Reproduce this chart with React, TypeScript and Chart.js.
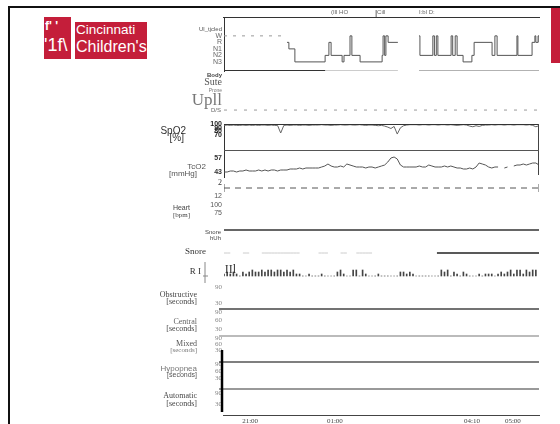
import React, { useEffect, useRef } from "react";
import { Chart, registerables } from "chart.js";

Chart.register(...registerables);

// ---------------- data ----------------
const TIME_TICKS = [8.3, 35.2, 78.7, 91.7];
const TIME_LABELS = ["21:00", "01:00", "04:10", "05:00"];
const HEADER_TICKS = [34.0, 48.6, 61.9];
const HEADER_LABELS = ["(Ill HO", "Cill", "I:bl D:"];
const LIGHTS_MARK = 48.3;

const STAGE_VALUES = [4, 3, 2, 1, 0];
const STAGE_LABELS = ["W", "R", "N1", "N2", "N3"];
const PRE_WAKE_X = [0, 20];
const PRE_WAKE_STAGE = [4, 4];
const HYP_X = [20.0, 20.6, 22.5, 32.1, 33.3, 34.0, 37.5, 38.1, 40.0, 40.6, 43.2, 50.2, 50.5, 51.0, 51.4, 52.1, 55.2, 58, 61.9, 62.2, 66.3, 66.8, 67.4, 67.9, 72.1, 72.6, 73.4, 74.0, 75.9, 78.7, 79.4, 85.1, 86.0, 86.7, 93.0, 93.3, 97.8, 98.7, 99.0, 99.7, 100];
const HYP_STAGE = [3, 2, 0, 1, 3, 1, 0, 1, 4, 1, 0, 1, 4, 1, 4, 3, 3, null, 4, 1, 4, 1, 4, 1, 4, 1, 4, 1, 0, 1, 3, 1, 4, 1, 4, 1, 3, 4, 3, 4, 3];
const SLEEP_BAR_DARK = [0, 32.1];
const SLEEP_BAR_LIGHT = [32.1, 55.2];
const SLEEP_BAR_MID = [61.9, 100];

const POS_X = [0, 100];
const POS_LEVEL = [0, 0];

const SPO2_TICKS = [100, 90, 80, 70];
const SPO2 = [
  97, 98, 97, 98, 97, 97, 98, 97, 98, 97,
  98, 97, 98, 98, 97, 98, 97, 97, 75, 97,
  98, 97, 98, 98, 97, 98, 98, 97, 98, 98,
  98, 99, 98, 98, 97, 98, 98, 99, 98, 98,
  99, 98, 98, 99, 98, 97, 98, 98, 97, 96,
  97, 95, 92, 88, 94, 72, 90, 96, 98, 99,
  99, 99, 98, 99, 99, 98, 99, 99, 98, 99,
  99, 98, 99, 98, 97, 98, 99, 98, 95, 93,
  96, 94, 97, 98, 98, 99, 98, 99, 99, 98,
  99, 99, 98, 99, 99, 99, 98, 99, 97, 93,
  96,
];

const TCO2_TICKS = [57, 43];
const TCO2 = [
  43, 43, 44, 44, 43, 44, 44, 45, 44, 44,
  44, 45, 44, 45, 44, 45, 45, 44, 45, 45,
  45, 46, 46, 46, 47, 46, 47, 47, 47, 47,
  47, 48, 49, 51, 49, 48, 48, 49, 48, 51,
  50, 49, 48, 48, 48, 47, 48, 48, 47, 48,
  49, 50, 53, 57, 58, 56, 50, 48, 48, 48,
  48, 48, 49, 48, 48, 50, 49, 48, 48, 48,
  49, 48, 49, 48, 47, 47, 46, 46, 47, 46,
  48, 52, 51, 50, 48, 47, 48, 48, null, 47,
  48, null, 49, 50, 50, 51, 50, 51, 52, 52,
  50,
];

const CO2_X = [0, 100];
const CO2_LEVEL = [0, 0];
const CO2_TICKS = [1];
const CO2_TICK_LABELS = ["2"];

const HR_TICKS = [125, 100, 75];
const HR_TICK_LABELS = ["12", "100", "75"];

const SNORE_HUH_X = [0, 100];
const SNORE_HUH = [0, 0];
const SNORE_FAINT = [
  0, 0, 0, null, null, null, 0, 0, 0, null, null, null,
  0, 0, 0, 0, 0, 0, 0, 0, 0, 0, 0, 0, 0,
  null, null, null, null, null, 0, 0, 0, 0, null, null, null,
  0, 0, 0, null, null, 0, 0, 0, 0, 0, 0,
  null, null, null, null, null, null, null, null, null, null,
  null, null, null, null, null, null, null, null, null,
];
const SNORE_LOUD_X = [67.6, 100];
const SNORE_LOUD = [0, 0];

const RESP = [
  1, 2, 1, 2, 1, 0, 2, 1, 2, 3, 2, 2, 3, 2, 3, 3, 2, 3, 3, 2, 3, 2, 3, 1, 1,
  0, 0, 1, 0, 0, 0, 1, 0, 0, 0, 0,
  2, 3, 1, 0, 0,
  3, 3, 0, 3, 1,
  0, 0, 0, 1, 0, 0, 0,
  0, 0, 0,
  2, 2, 1, 2, 1, 0, 0,
  0, 0, 0, 0, 0, 0,
  3, 2, 3, 0, 2, 1,
  0, 2, 1, 0, 0, 0,
  1, 0, 1, 1, 1, 0,
  1, 2, 1, 2, 3, 1,
  3, 3, 1, 3, 2, 3, 3,
];

const EVENT_TICKS = [90, 60, 30];
const EVENT_TICKS_SHORT = [90, 30];

// ---------------- styling ----------------
const SANS = "'Liberation Sans', Arial, sans-serif";
const SERIF = "'Liberation Serif', 'Times New Roman', serif";

type Panel = {
  id: string; h: number; min: number; max: number;
  ticks?: number[]; labels?: string[]; font?: any; color?: string; border?: boolean;
};

const EV_FONT = { family: SERIF, size: 7 };
const PANELS: Panel[] = [
  { id: "yHyp", h: 54, min: -1.4, max: 6.9, ticks: STAGE_VALUES, labels: STAGE_LABELS, font: { family: SANS, size: 7 }, color: "#666", border: true },
  { id: "yPos", h: 53, min: -1, max: 2.8 },
  { id: "ySpo2", h: 26, min: 26, max: 101, ticks: SPO2_TICKS, font: { family: SANS, size: 7, weight: "bold" }, color: "#222", border: true },
  { id: "yTco2", h: 27, min: 38, max: 65, ticks: TCO2_TICKS, font: { family: SANS, size: 7, weight: "bold" }, color: "#333", border: true },
  { id: "yCo2", h: 16, min: -1, max: 2.2, ticks: CO2_TICKS, labels: CO2_TICK_LABELS, font: { family: SERIF, size: 8 }, color: "#333" },
  { id: "yHr", h: 29, min: 50, max: 135, ticks: HR_TICKS, labels: HR_TICK_LABELS, font: { family: SANS, size: 7 }, color: "#555" },
  { id: "ySnoreHuh", h: 22, min: -1, max: 0.571 },
  { id: "ySnore", h: 18, min: -1, max: 1 },
  { id: "yResp", h: 22, min: -4, max: 7 },
  { id: "yObs", h: 25, min: 7.5, max: 101.25, ticks: EVENT_TICKS_SHORT, font: EV_FONT, color: "#888" },
  { id: "yCen", h: 27, min: 5.3, max: 100.6, ticks: EVENT_TICKS, font: EV_FONT, color: "#888" },
  { id: "yMix", h: 26, min: -30, max: 100, ticks: EVENT_TICKS, font: EV_FONT, color: "#888" },
  { id: "yHyo", h: 27, min: -17, max: 98.6, ticks: EVENT_TICKS, font: EV_FONT, color: "#888" },
  { id: "yAuto", h: 26, min: -30, max: 111.8, ticks: EVENT_TICKS_SHORT, font: EV_FONT, color: "#888" },
];

// side texts: [text, rightX, centerY, size, family, color, weight]
const SIDE_TEXT: [string, number, number, number, string, string, string?][] = [
  ["Ul_tjcled", 222, 29, 6, SANS, "#555"],
  ["Body", 222, 75, 6, SANS, "#444", "bold"],
  ["Sute", 222, 82, 10, SERIF, "#555"],
  ["Prone", 222, 91, 5, SANS, "#777"],
  ["Upll", 222, 101, 17, SERIF, "#777"],
  ["D/S", 221, 110, 6, SANS, "#666"],
  ["SpO2", 186, 131, 10, SANS, "#333"],
  ["[%]", 184, 138, 10, SANS, "#333"],
  ["TcO2", 206, 167, 8, SANS, "#555"],
  ["[mmHg]", 197, 174, 8, SANS, "#555"],
  ["Heart", 190, 208, 7, SANS, "#444"],
  ["[bpm]", 190, 215, 7, SERIF, "#444"],
  ["Snore", 221, 232, 6, SANS, "#444"],
  ["hUh", 221, 238, 6, SANS, "#444"],
  ["Snore", 206, 252, 9, SERIF, "#333"],
  ["R I", 201, 272, 9, SERIF, "#333"],
  ["IIl", 236, 270, 12, SERIF, "#333"],
  ["Obstructive", 197, 295, 8, SERIF, "#444"],
  ["[seconds]", 197, 302, 8, SERIF, "#444"],
  ["Central", 197, 322, 8, SERIF, "#666"],
  ["[seconds]", 197, 329, 8, SERIF, "#444"],
  ["Mixed", 197, 344, 8, SERIF, "#555"],
  ["[seconds]", 197, 350, 7, SERIF, "#777"],
  ["Hypopnea", 197, 369, 8, SANS, "#777"],
  ["[seconds]", 197, 375, 7, SANS, "#555"],
  ["Automatic", 197, 396, 8, SERIF, "#444"],
  ["[seconds]", 197, 404, 8, SERIF, "#444"],
];

const xy = (xs: number[], ys: (number | null)[]) => xs.map((x, i) => ({ x, y: ys[i] }));
const idx = (ys: (number | null)[]) => ys.map((y, i) => ({ x: i, y }));

const decor = {
  id: "decor",
  afterDraw(chart: any) {
    const { ctx, chartArea: ca, scales: s } = chart;
    const L = (x1: number, y1: number, x2: number, y2: number, c: string, w: number) => {
      ctx.save();
      ctx.strokeStyle = c;
      ctx.lineWidth = w;
      ctx.beginPath();
      ctx.moveTo(x1, y1);
      ctx.lineTo(x2, y2);
      ctx.stroke();
      ctx.restore();
    };
    L(ca.left, s.ySpo2.top + 0.5, ca.right, s.ySpo2.top + 0.5, "#333", 1);
    L(ca.right - 0.5, s.ySpo2.top, ca.right - 0.5, s.yTco2.bottom - 2, "#444", 1);
    L(ca.left, s.ySpo2.bottom + 0.5, ca.right, s.ySpo2.bottom + 0.5, "#555", 1);
    ([
      ["yObs", "#444", 1.5],
      ["yCen", "#bbb", 2],
      ["yMix", "#555", 1.5],
      ["yHyo", "#999", 2],
    ] as [string, string, number][]).forEach(([id, c, w]) => {
      L(ca.left - 5, s[id].bottom, ca.right, s[id].bottom, c, w);
    });
    const r = s.yResp;
    const rx = ca.left - 19;
    L(rx, r.top, rx, r.bottom - 1, "#888", 1);
    const z = r.getPixelForValue(0);
    L(rx - 2, z, rx + 3, z, "#888", 1);
    L(ca.left - 2, s.yMix.top + 14, ca.left - 2, ca.bottom - 3, "#000", 2.5);
    const mx = s.xTop.getPixelForValue(LIGHTS_MARK);
    L(mx, ca.top - 7, mx, ca.top, "#666", 1);
    ctx.save();
    ctx.textAlign = "right";
    ctx.textBaseline = "middle";
    SIDE_TEXT.forEach(([t, x, y, size, fam, col, wt]) => {
      ctx.font = `${wt || "normal"} ${size}px ${fam}`;
      ctx.fillStyle = col;
      ctx.fillText(t, x, y);
    });
    ctx.restore();
  },
};

export default function App() {
  const ref = useRef<HTMLCanvasElement>(null);

  useEffect(() => {
    const canvas = ref.current;
    if (!canvas) return;

    const scales: any = {
      x: {
        type: "linear", position: "bottom", min: 0, max: 100, offset: false,
        grid: { display: false, drawTicks: false },
        border: { display: true, color: "#444", width: 1 },
        ticks: {
          autoSkip: false, maxRotation: 0, padding: 2, color: "#444",
          font: { family: SERIF, size: 7 },
          callback: (v: number) => { const i = TIME_TICKS.indexOf(v); return i >= 0 ? TIME_LABELS[i] : ""; },
        },
        afterBuildTicks: (a: any) => { a.ticks = TIME_TICKS.map((v) => ({ value: v })); },
        afterFit: (a: any) => { a.height = 9; },
      },
      xTop: {
        type: "linear", position: "top", min: 0, max: 100, offset: false,
        grid: { display: false, drawTicks: false },
        border: { display: true, color: "#333", width: 1 },
        ticks: {
          autoSkip: false, maxRotation: 0, padding: 1, color: "#666", align: "start",
          font: { family: SANS, size: 6 },
          callback: (v: number) => { const i = HEADER_TICKS.indexOf(v); return i >= 0 ? HEADER_LABELS[i] : ""; },
        },
        afterBuildTicks: (a: any) => { a.ticks = HEADER_TICKS.map((v) => ({ value: v })); },
        afterFit: (a: any) => { a.height = 10; },
      },
    };

    [...PANELS].reverse().forEach((p) => {
      const tv = p.ticks && p.ticks.length ? p.ticks : [p.min];
      scales[p.id] = {
        type: "linear", position: "left", stack: "panels", stackWeight: p.h,
        min: p.min, max: p.max, offset: false,
        grid: { display: false, drawTicks: false },
        border: { display: !!p.border, color: "#333", width: 1 },
        ticks: {
          display: !!p.ticks, autoSkip: false, padding: 2,
          font: p.font || { family: SANS, size: 7 }, color: p.color || "#555",
          callback: (v: number) => {
            if (!p.ticks) return "";
            const i = p.ticks.indexOf(v);
            if (i < 0) return "";
            return p.labels ? p.labels[i] : String(v);
          },
        },
        afterBuildTicks: (a: any) => { a.ticks = tv.map((v) => ({ value: v })); },
        afterFit: (a: any) => { a.width = 30; },
      };
    });

    const line = (data: any[], yAxisID: string, color: string, width: number, extra: any = {}) => ({
      type: "line", data, yAxisID, xAxisID: "x", borderColor: color, borderWidth: width,
      pointRadius: 0, tension: 0, spanGaps: false, fill: false, ...extra,
    });

    const chart = new Chart(canvas, {
      type: "line",
      data: {
        datasets: [
          line(xy(PRE_WAKE_X, PRE_WAKE_STAGE), "yHyp", "#999", 1, { borderDash: [3, 6] }),
          line(xy(HYP_X, HYP_STAGE as any), "yHyp", "#555", 1, { stepped: true }),
          line(xy(SLEEP_BAR_DARK, [-1.4, -1.4]), "yHyp", "#333", 2),
          line(xy(SLEEP_BAR_LIGHT, [-1.4, -1.4]), "yHyp", "#bbb", 1.5),
          line(xy(SLEEP_BAR_MID, [-1.4, -1.4]), "yHyp", "#999", 1.5),
          line(xy(POS_X, POS_LEVEL), "yPos", "#999", 1, { borderDash: [3, 7] }),
          line(idx(SPO2), "ySpo2", "#666", 1),
          line(idx(TCO2), "yTco2", "#555", 1),
          line(xy(CO2_X, CO2_LEVEL), "yCo2", "#555", 1, {
            borderDash: [6, 5], pointRadius: 4, pointStyle: "line", pointRotation: 90,
            pointBorderColor: "#555", pointBorderWidth: 1,
          }),
          line(xy(SNORE_HUH_X, SNORE_HUH), "ySnoreHuh", "#333", 1.5),
          line(idx(SNORE_FAINT), "ySnore", "#ccc", 1),
          line(xy(SNORE_LOUD_X, SNORE_LOUD), "ySnore", "#222", 1.5),
          {
            type: "bar", data: idx(RESP), yAxisID: "yResp", xAxisID: "x",
            backgroundColor: "#444", barThickness: 1, borderWidth: 0,
          },
        ] as any,
      },
      options: {
        responsive: false,
        devicePixelRatio: 1,
        animation: false,
        layout: { padding: { left: 194, top: 7, right: 21, bottom: 0 } },
        plugins: { legend: { display: false }, tooltip: { enabled: false }, title: { display: false } },
        scales,
      } as any,
      plugins: [decor],
    });

    return () => chart.destroy();
  }, []);

  return (
    <div style={{ position: "fixed", left: 0, top: 0, width: 560, height: 424, background: "#fff", overflow: "hidden" }}>
      <div style={{ position: "absolute", left: 8, top: 6, width: 560, height: 430, borderTop: "2px solid #111", borderLeft: "2px solid #111" }} />
      <div style={{ position: "absolute", left: 551, top: 8, width: 9, height: 55, background: "#c41e3a" }} />
      <div style={{ position: "absolute", left: 44, top: 17, width: 27, height: 42, background: "#c41e3a", color: "#fff", fontFamily: SANS, overflow: "hidden", whiteSpace: "nowrap" }}>
        <div style={{ position: "absolute", left: 1, top: 3, fontSize: 12, fontWeight: "bold", lineHeight: "12px" }}>f' '</div>
        <div style={{ position: "absolute", left: 0, top: 19, fontSize: 18, lineHeight: "18px" }}>'1f\</div>
      </div>
      <div style={{ position: "absolute", left: 75, top: 22, width: 72, height: 37, background: "#c41e3a", color: "#fff", fontFamily: SANS, overflow: "hidden", whiteSpace: "nowrap" }}>
        <div style={{ position: "absolute", left: 1, top: 0, fontSize: 13.5, lineHeight: "15px" }}>Cincinnati</div>
        <div style={{ position: "absolute", left: 1, top: 15, fontSize: 16, lineHeight: "19px" }}>Children's</div>
      </div>
      <canvas ref={ref} width={560} height={424} style={{ position: "absolute", left: 0, top: 0, width: 560, height: 424 }} />
    </div>
  );
}
